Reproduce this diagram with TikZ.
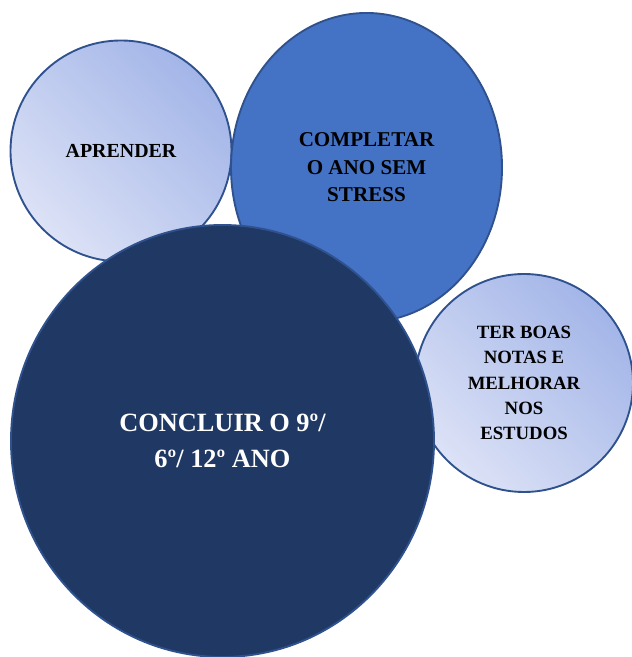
\documentclass[tikz,border=0pt]{standalone}
\usepackage{fontspec}
\setmainfont{Liberation Serif}
\usetikzlibrary{shapes.geometric}
\definecolor{bubbleline}{HTML}{2F528F}
\definecolor{paleblue}{HTML}{DCE2F6}
\definecolor{softblue}{HTML}{A3B5E8}
\definecolor{midblue}{HTML}{4472C4}
\definecolor{navyblue}{HTML}{203864}
\tikzset{
  bubble/.style={draw=bubbleline, line width=1.6pt, align=center, inner sep=0pt,
    font=\fontsize{17}{23}\selectfont\bfseries},
  palebubble/.style={bubble, circle, left color=paleblue, right color=softblue, shading angle=135},
}

\begin{document}
\begin{tikzpicture}[x=0.03cm, y=0.03cm]
  \useasboundingbox (0,0) rectangle (631,657);

  % small bubbles first, the big one last
  \node[palebubble, minimum size=6.63cm] (aprender) at (121,506) {APRENDER};

  \node[bubble, ellipse, fill=midblue, minimum width=8.13cm, minimum height=9.27cm,
    font=\fontsize{18}{23.5}\selectfont\bfseries]
    (completar) at (366.5,489.5) {COMPLETAR\\O ANO SEM\\STRESS};

  \node[palebubble, minimum size=6.54cm, font=\fontsize{16}{21.5}\selectfont\bfseries]
    (notas) at (524,274) {TER BOAS\\NOTAS E\\MELHORAR\\NOS\\ESTUDOS};

  \node[bubble, ellipse, fill=navyblue, text=white, minimum width=12.69cm, minimum height=12.96cm,
    font=\fontsize{22.5}{31}\selectfont\bfseries]
    (concluir) at (222.5,216) {CONCLUIR O 9º/\\6º/ 12º ANO};

\end{tikzpicture}
\end{document}
